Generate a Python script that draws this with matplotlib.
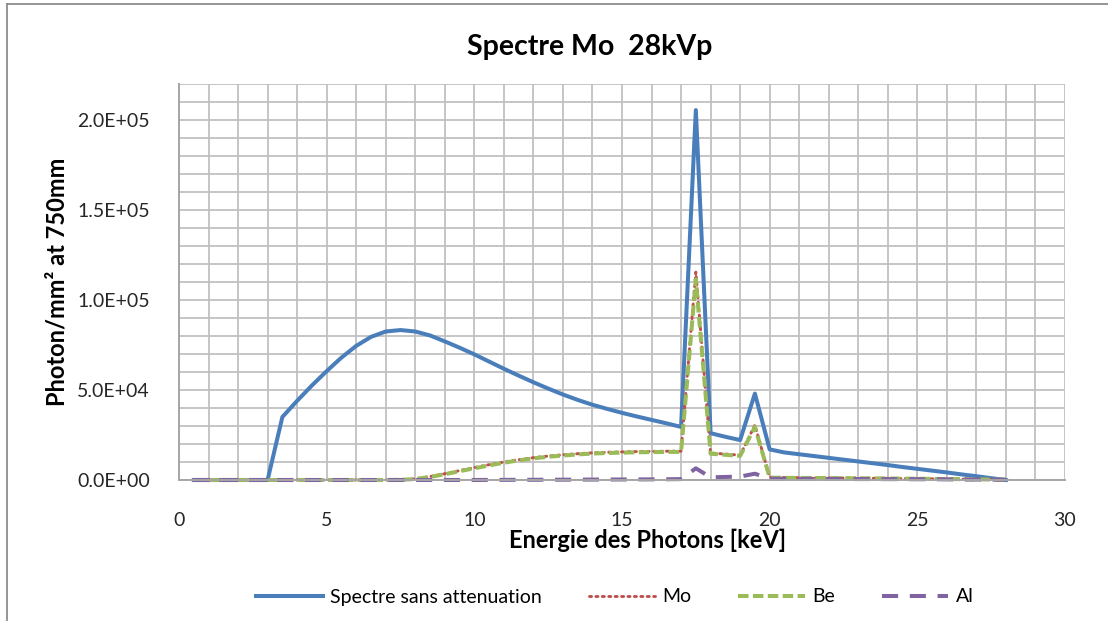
import matplotlib
matplotlib.use("Agg")
import matplotlib.pyplot as plt
from matplotlib.lines import Line2D
from matplotlib.ticker import MultipleLocator, FuncFormatter

plt.rcParams["font.family"] = ["Lato", "DejaVu Sans"]

# energies (keV)
energy = [0.5, 1.0, 1.5, 2.0, 2.5, 3.0, 3.5, 4.0, 4.5, 5.0,
          5.5, 6.0, 6.5, 7.0, 7.5, 8.0, 8.5, 9.0, 9.5, 10.0,
          10.5, 11.0, 11.5, 12.0, 12.5, 13.0, 13.5, 14.0, 14.5, 15.0,
          15.5, 16.0, 16.5, 17.0, 17.5, 18.0, 18.5, 19.0, 19.5, 20.0,
          20.5, 21.0, 21.5, 22.0, 22.5, 23.0, 23.5, 24.0, 24.5, 25.0,
          25.5, 26.0, 26.5, 27.0, 27.5, 28.0]

spectre = [0, 0, 0, 0, 0, 0, 35000, 44000, 52500, 60500,
           68000, 74500, 79500, 82500, 83300, 82500, 80300, 77000, 73500, 69800,
           65800, 61800, 58000, 54300, 50800, 47500, 44500, 41800, 39500, 37300,
           35300, 33400, 31500, 29500, 205500, 26000, 24000, 22200, 48000, 17000,
           15300, 14300, 13300, 12300, 11300, 10300, 9300, 8300, 7200, 6200,
           5200, 4200, 3100, 2100, 1000, 0]

mo = [0, 0, 0, 0, 0, 0, 0, 0, 0, 0,
      0, 0, 0, 0, 100, 600, 1900, 3500, 5200, 6900,
      8500, 10000, 11300, 12400, 13300, 14000, 14600, 15100, 15400, 15600,
      15800, 15900, 16000, 16000, 115500, 15000, 14400, 13800, 30500, 1500,
      1400, 1300, 1200, 1150, 1100, 1000, 950, 900, 800, 750,
      650, 600, 500, 400, 300, 200]

be = [0, 0, 0, 0, 0, 0, 0, 0, 0, 0,
      0, 0, 0, 0, 100, 500, 1700, 3200, 4900, 6500,
      8100, 9600, 10900, 12000, 12900, 13600, 14200, 14700, 15000, 15200,
      15400, 15500, 15600, 15600, 111500, 14600, 14000, 13400, 29500, 1300,
      1200, 1150, 1100, 1050, 1000, 950, 900, 850, 750, 700,
      600, 550, 450, 350, 250, 150]

al = [0, 0, 0, 0, 0, 0, 0, 0, 0, 0,
      0, 0, 0, 0, 0, 0, 0, 0, 0, 0,
      50, 80, 100, 120, 150, 180, 200, 230, 260, 290,
      320, 350, 400, 500, 6500, 1500, 1700, 1900, 3500, 700,
      650, 620, 600, 580, 550, 520, 500, 480, 450, 420,
      400, 350, 300, 250, 200, 150]

series = [
    ("Spectre sans attenuation", spectre, "#4A7EBB", "-", 2.9),
    ("Mo", mo, "#C0504D", (0, (0.7, 1.5)), 2.1),
    ("Be", be, "#9BBB59", (0, (2.6, 1.1)), 2.9),
    ("Al", al, "#8064A2", (0, (4.0, 2.9)), 2.9),
]

fig = plt.figure(figsize=(11.08, 6.21), dpi=100)
ax = fig.add_axes([179 / 1108, 1 - 480 / 621, 886 / 1108, 396 / 621])

for label, vals, color, ls, lw in series:
    cap = "round" if label == "Mo" else "butt"
    ax.plot(energy, vals, color=color, linestyle=ls, linewidth=lw,
            label=label, clip_on=False, solid_joinstyle="round",
            dash_capstyle=cap)

ax.set_xlim(0, 30)
ax.set_ylim(0, 220000)
ax.xaxis.set_major_locator(MultipleLocator(5))
ax.xaxis.set_minor_locator(MultipleLocator(1))
ax.yaxis.set_major_locator(MultipleLocator(50000))
ax.yaxis.set_minor_locator(MultipleLocator(10000))
ax.yaxis.set_major_formatter(FuncFormatter(lambda v, p: f"{v:.1E}"))
ax.grid(True, which="both", color="#C0C0C0", linewidth=1.3)
ax.set_axisbelow(True)
ax.tick_params(which="both", length=0, labelsize=14, colors="#262626")
ax.tick_params(axis="y", pad=21)
ax.tick_params(axis="x", pad=23)
for side in ["top", "right"]:
    ax.spines[side].set_visible(False)
for side in ["left", "bottom"]:
    ax.spines[side].set_color("#A6A6A6")
    ax.spines[side].set_linewidth(1.4)

ax.set_xlabel("Energie des Photons [keV]", fontsize=17, fontweight="bold")
ax.xaxis.set_label_coords((648 - 179) / 886, (480 - 540) / 396)
ax.set_ylabel("Photon/mm² at 750mm", fontsize=17, fontweight="bold")
ax.yaxis.set_label_coords((57 - 179) / 886, 0.5)
ax.xaxis.label.set_va("center")
ax.yaxis.label.set_va("center")

fig.text(590 / 1108, 1 - 47 / 621, "Spectre Mo  28kVp", fontsize=20.5,
         fontweight="bold", ha="center", va="center")

fig.legend(loc="center", bbox_to_anchor=(615 / 1108, 1 - 597 / 621), ncol=4,
           frameon=False, fontsize=14, handlelength=3.4, columnspacing=2.4,
           handletextpad=0.4)

# outer chart border (left and top edges visible)
fig.add_artist(Line2D([7 / 1108, 7 / 1108], [0, 1 - 4 / 621],
                      transform=fig.transFigure, color="#8C8C8C", linewidth=1.3))
fig.add_artist(Line2D([7 / 1108, 1], [1 - 4 / 621, 1 - 4 / 621],
                      transform=fig.transFigure, color="#8C8C8C", linewidth=1.3))

fig.savefig("out.png", dpi=100)
